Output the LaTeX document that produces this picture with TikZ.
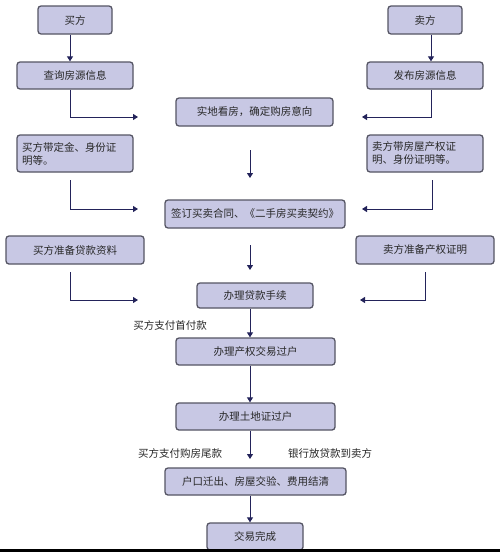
\documentclass[tikz,border=0pt]{standalone}
\usepackage{fontspec}
\setmainfont{Noto Sans CJK SC}
\usetikzlibrary{arrows.meta}
\definecolor{boxfill}{RGB}{200,200,228}
\definecolor{boxline}{RGB}{85,85,100}
\definecolor{arrowc}{RGB}{35,35,90}
\definecolor{txt}{RGB}{40,40,40}
\tikzset{
  box/.style={draw=boxline, line width=1.3pt, fill=boxfill, rounded corners=3pt,
    inner sep=0pt, text=txt, font=\fontsize{10.5pt}{12pt}\selectfont},
  conn/.style={draw=arrowc, line width=1pt, -{Triangle[length=5pt,width=6pt]}},
  lbl/.style={text=txt, inner sep=0pt, font=\fontsize{10.5pt}{12pt}\selectfont}
}
\begin{document}
\begin{tikzpicture}[x=1pt,y=-1pt]
\useasboundingbox[fill=white] (0,0) rectangle (500,552);
% boxes
\node[box, minimum width=74pt, minimum height=28pt] (buyer) at (75,20) {买方};
\node[box, minimum width=74pt, minimum height=28pt] (seller) at (425,20) {卖方};
\node[box, minimum width=116pt, minimum height=27pt] (query) at (75,75.5) {查询房源信息};
\node[box, minimum width=116pt, minimum height=27pt] (publish) at (425,75.5) {发布房源信息};
\node[box, minimum width=157pt, minimum height=28pt] (view) at (254.5,112) {实地看房，确定购房意向};
\node[box, minimum width=116pt, minimum height=37pt, align=left, text width=106pt,
  font=\fontsize{10.5pt}{13pt}\selectfont] (bdep) at (75,153.5) {买方带定金、身份证\\明等。};
\node[box, minimum width=116pt, minimum height=37pt, align=left, text width=106pt,
  font=\fontsize{10.5pt}{13pt}\selectfont] (sdep) at (425,153.5) {卖方带房屋产权证\\明、身份证明等。};
\node[box, minimum width=180pt, minimum height=28pt] (sign) at (255,214) {签订买卖合同、《二手房买卖契约》};
\node[box, minimum width=138pt, minimum height=28pt] (bloan) at (75,250) {买方准备贷款资料};
\node[box, minimum width=138pt, minimum height=28pt] (sprep) at (425,250) {卖方准备产权证明};
\node[box, minimum width=116pt, minimum height=25pt] (loan) at (255,295.5) {办理贷款手续};
\node[box, minimum width=159pt, minimum height=27pt] (trans) at (255.5,351.5) {办理产权交易过户};
\node[box, minimum width=159pt, minimum height=27pt] (land) at (255.5,416.5) {办理土地证过户};
\node[box, minimum width=181pt, minimum height=27pt] (hukou) at (255.5,481.5) {户口迁出、房屋交验、费用结清};
\node[box, minimum width=96pt, minimum height=27pt] (done) at (255,536.5) {交易完成};
% labels
\node[lbl] (l1) at (170,325) {买方支付首付款};
\node[lbl] (l2) at (180,453) {买方支付购房尾款};
\node[lbl] (l3) at (330,453) {银行放贷款到卖方};
% column coordinates
\coordinate (cl) at (70,0);
\coordinate (cr) at (431,0);
\coordinate (cr2) at (425,0);
\coordinate (cm) at (250,0);
% buyer / seller arrows
\draw[conn] (buyer.south -| cl) -- (query.north -| cl);
\draw[conn] (seller.south -| cr) -- (query.north -| cr |- publish.north);
% left side chains
\coordinate (a1) at (138,117);
\draw[conn] (query.south -| cl) |- (a1);
\coordinate (a2s) at (70,180);
\coordinate (a2) at (138,209);
\draw[conn] (a2s) |- (a2);
\coordinate (a3s) at (70,272);
\coordinate (a3) at (138,300);
\draw[conn] (a3s) |- (a3);
% right side chains
\coordinate (b1) at (362,117);
\draw[conn] (publish.south -| cr) |- (b1);
\coordinate (b2s) at (432,180);
\coordinate (b2) at (362,209);
\draw[conn] (b2s) |- (b2);
\coordinate (b3s) at (425,272);
\coordinate (b3) at (360,300);
\draw[conn] (b3s) |- (b3);
% center chain
\coordinate (m1s) at (250,150);
\coordinate (m1e) at (250,178);
\draw[conn] (m1s) -- (m1e);
\coordinate (m2s) at (250,245);
\coordinate (m2e) at (250,270);
\draw[conn] (m2s) -- (m2e);
\draw[conn] (loan.south -| cm) -- (trans.north -| cm);
\draw[conn] (trans.south -| cm) -- (land.north -| cm);
\coordinate (m5e) at (250,459);
\draw[conn] (land.south -| cm) -- (m5e);
\draw[conn] (hukou.south -| cm) -- (done.north -| cm);
% bottom edge strip
\fill[black] (0,549) rectangle (500,552);
\end{tikzpicture}
\end{document}
